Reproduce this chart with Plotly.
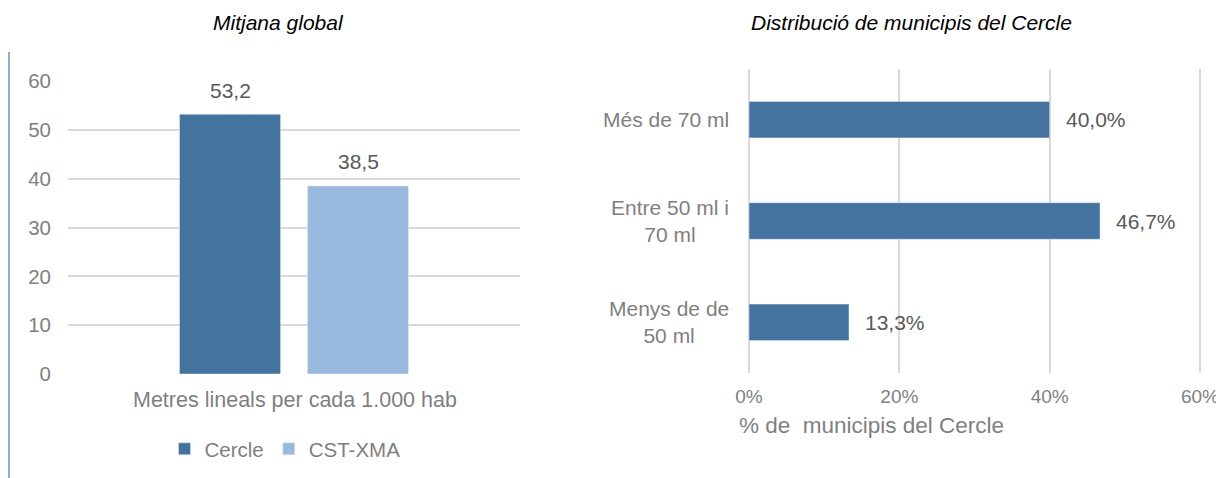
import plotly.graph_objects as go

# page has an 8px body margin; figure is placed at (8, 8)
OFF = 8
W, H = 1224 - OFF, 478 - OFF

# Left chart data
left_category = ["Metres lineals per cada 1.000 hab"]
left_series = ["Cercle", "CST-XMA"]
left_values = [53.2, 38.5]
left_colors = ["#44739F", "#99B9DF"]
left_ticks = [0, 10, 20, 30, 40, 50, 60]

# Right chart data
right_categories = ["Menys de de<br>50 ml", "Entre 50 ml i<br>70 ml", "Més de 70 ml"]
right_values = [0.133, 0.467, 0.400]
right_ticks = [0, 0.2, 0.4, 0.6]
right_tick_labels = ["0%", "20%", "40%", "60%"]

GRAY = "#7F7F7F"
LABEL = "#595959"
FONT = "Liberation Sans, Arial, sans-serif"

def px_x(x):
    return (x - OFF) / W

def px_y(y):
    return 1 - (y - OFF) / H

fig = go.Figure()

for name, val, col in zip(left_series, left_values, left_colors):
    fig.add_trace(go.Bar(
        x=left_category, y=[val], name=name, marker_color=col,
        xaxis="x", yaxis="y", showlegend=True,
    ))

fig.add_trace(go.Bar(
    x=right_values, y=right_categories, orientation="h",
    marker_color=left_colors[0], xaxis="x2", yaxis="y2", showlegend=False,
    width=0.36,
))

annotations = []
# left data labels
offsets = [-0.5, 0.5]
for name, val, off in zip(left_series, left_values, offsets):
    annotations.append(dict(
        x=left_category[0], y=val, xref="x", yref="y", text=f"{val:.1f}".replace(".", ","),
        showarrow=False, xanchor="center", yanchor="middle", yshift=24, xshift=off * 128,
        font=dict(family=FONT, size=21, color=LABEL),
    ))
# right data labels
for cat, val in zip(right_categories, right_values):
    annotations.append(dict(
        x=val, y=cat, xref="x2", yref="y2", text=f"{val*100:.1f}%".replace(".", ","),
        showarrow=False, xanchor="left", yanchor="middle", xshift=14,
        font=dict(family=FONT, size=21, color=LABEL),
    ))
# right category labels (centered multi-line)
for cat in right_categories:
    annotations.append(dict(
        x=px_x(731), y=cat, xref="paper", yref="y2", text=cat, align="center",
        showarrow=False, xanchor="right", yanchor="middle",
        font=dict(family=FONT, size=21, color=GRAY),
    ))
# titles
annotations.append(dict(
    x=px_x(278), y=px_y(22), xref="paper", yref="paper", text="<i>Mitjana global</i>",
    showarrow=False, xanchor="center", yanchor="middle",
    font=dict(family=FONT, size=21, color="#000000"),
))
annotations.append(dict(
    x=px_x(911), y=px_y(22), xref="paper", yref="paper",
    text="<i>Distribució de municipis del Cercle</i>",
    showarrow=False, xanchor="center", yanchor="middle",
    font=dict(family=FONT, size=21, color="#000000"),
))
annotations.append(dict(
    x=px_x(295), y=px_y(400), xref="paper", yref="paper",
    text="Metres lineals per cada 1.000 hab",
    showarrow=False, xanchor="center", yanchor="middle",
    font=dict(family=FONT, size=21.5, color=GRAY),
))
annotations.append(dict(
    x=px_x(871), y=px_y(425), xref="paper", yref="paper",
    text="% de&nbsp; municipis del Cercle",
    showarrow=False, xanchor="center", yanchor="middle",
    font=dict(family=FONT, size=22.5, color=GRAY),
))

# small padding so the 0% and 60% gridlines are drawn inside the plot area
PAD = 0.0015
x2_px = 451.0 / 0.6 * PAD

fig.update_layout(
    width=W, height=H,
    margin=dict(l=0, r=0, t=0, b=0, autoexpand=False),
    paper_bgcolor="white", plot_bgcolor="white",
    barmode="group", bargap=0.434, bargroupgap=0.21,
    xaxis=dict(domain=[px_x(68), px_x(520)], showticklabels=False, showgrid=False,
               zeroline=False, showline=False, fixedrange=True, automargin=False),
    yaxis=dict(domain=[px_y(374), px_y(81)], range=[0, 60], tickvals=left_ticks,
               showgrid=True, gridcolor="#D9D9D9", gridwidth=1.5, zeroline=False,
               showline=False, ticklabelstandoff=16, automargin=False,
               tickfont=dict(family=FONT, size=20.5, color=GRAY)),
    xaxis2=dict(domain=[px_x(749 - x2_px), px_x(1200 + x2_px)],
                range=[-PAD, 0.6 + PAD], tickvals=right_ticks,
                ticktext=right_tick_labels, anchor="y2", automargin=False,
                showgrid=True, gridcolor="#D9D9D9", gridwidth=1.5, zeroline=False,
                showline=False, ticklabelstandoff=10,
                tickfont=dict(family=FONT, size=19, color=GRAY)),
    yaxis2=dict(domain=[px_y(373), px_y(69)], range=[-0.5, 2.5], anchor="x2",
                showticklabels=False, showgrid=False, zeroline=False, showline=False,
                automargin=False,
                categoryorder="array", categoryarray=right_categories),
    legend=dict(orientation="h", x=px_x(285), y=px_y(449), xanchor="center",
                yanchor="middle", font=dict(family=FONT, size=20.5, color=GRAY),
                itemwidth=30, tracegroupgap=0),
    annotations=annotations,
    shapes=[dict(type="line", xref="paper", yref="paper", x0=px_x(9), x1=px_x(9),
                 y0=px_y(52), y1=0, line=dict(color="#4A78A8", width=1.2))],
    showlegend=True,
)

fig.write_html("out.html")
